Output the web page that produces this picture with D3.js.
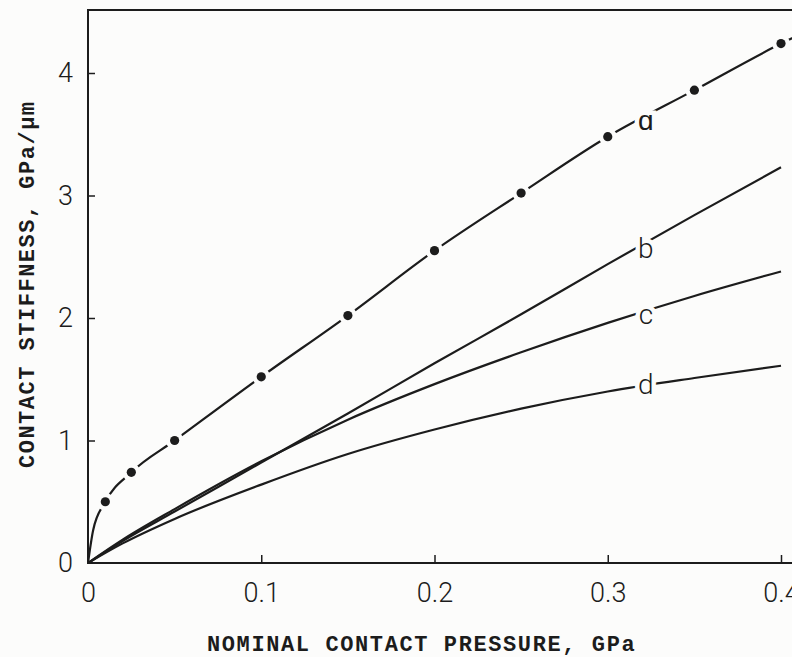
<!DOCTYPE html>
<html>
<head>
<meta charset="utf-8">
<script src="https://cdn.jsdelivr.net/npm/d3@7"></script>
<style>
  html, body { margin: 0; padding: 0; background: #fcfcfb; }
  svg { display: block; }
</style>
</head>
<body>
<svg id="chart"></svg>
<script>
// readings
const pressure = [0, 0.02, 0.05, 0.1, 0.15, 0.2, 0.25, 0.3, 0.35, 0.4]
const stiffB = [0, 0.18, 0.42, 0.82, 1.22, 1.63, 2.03, 2.44, 2.84, 3.23]
const stiffC = [0, 0.19, 0.44, 0.83, 1.17, 1.46, 1.72, 1.96, 2.18, 2.38]
const stiffD = [0, 0.16, 0.36, 0.64, 0.89, 1.09, 1.26, 1.4, 1.51, 1.61]

// curve a: measured points (dots) and the drawn curve through them
const measuredPressureA = [0.01, 0.025, 0.05, 0.1, 0.15, 0.2, 0.25, 0.3, 0.35, 0.4]
const measuredStiffA = [0.5, 0.74, 1.0, 1.52, 2.02, 2.55, 3.02, 3.48, 3.86, 4.24]
const curvePressureA = [0, 0.003, 0.01, 0.025, 0.05, 0.1, 0.15, 0.2, 0.25, 0.3, 0.35, 0.4, 0.41]
const curveStiffA = [0, 0.27, 0.5, 0.74, 1.0, 1.52, 2.02, 2.55, 3.02, 3.48, 3.86, 4.24, 4.31]

const curveNames = ["a", "b", "c", "d"]
const xTicks = [0, 0.1, 0.2, 0.3, 0.4]
const yTicks = [0, 1, 2, 3, 4]

const width = 792, height = 657
const ink = "#1c1c1c"
const paper = "#fcfcfb"
const labelAt = 0.322

const svg = d3.select("#chart").attr("width", width).attr("height", height)

const x = d3.scaleLinear().domain([0, 0.4]).range([88, 781])
const y = d3.scaleLinear().domain([0, 4]).range([563, 73])
const frameTop = 10, frameRight = 800

const series = [
    {name: curveNames[0], pts: curvePressureA.map((p, i) => [p, curveStiffA[i]]), dy: 4},
    {name: curveNames[1], pts: pressure.map((p, i) => [p, stiffB[i]]), dy: 6},
    {name: curveNames[2], pts: pressure.map((p, i) => [p, stiffC[i]]), dy: 3},
    {name: curveNames[3], pts: pressure.map((p, i) => [p, stiffD[i]]), dy: -1}
]

// frame (right side runs off the page like the scan)
svg.append("path")
    .attr("d", `M${frameRight},${frameTop} H${x(0)} V${y(0)} H${frameRight}`)
    .attr("fill", "none").attr("stroke", ink).attr("stroke-width", 2)

// axes with inward ticks
let xAxis = d3.axisBottom(x).tickValues(xTicks).tickSize(-8).tickPadding(20)
    .tickFormat(d => d === 0 ? "0" : d.toFixed(1))
let yAxis = d3.axisLeft(y).tickValues(yTicks).tickSize(-7).tickPadding(15)
    .tickFormat(d3.format("d"))

let gx = svg.append("g").attr("transform", `translate(0,${y(0)})`).call(xAxis)
let gy = svg.append("g").attr("transform", `translate(${x(0)},0)`).call(yAxis)
;[gx, gy].forEach(g => {
    g.select(".domain").remove()
    g.selectAll("line").attr("stroke", ink).attr("stroke-width", 1.5)
    g.selectAll("text")
        .attr("fill", ink)
        .style("font-family", "Roboto, 'Liberation Sans', sans-serif")
        .style("font-weight", 300)
        .style("font-size", "27px")
})
gx.selectAll(".tick").filter(d => d === 0).select("line").remove()
gy.selectAll(".tick").filter(d => d === 0).select("line").remove()

// curves
let lineGen = d3.line().x(d => x(d[0])).y(d => y(d[1])).curve(d3.curveMonotoneX)
svg.append("defs").append("clipPath").attr("id", "plot-clip")
    .append("rect").attr("x", x(0)).attr("y", frameTop)
    .attr("width", frameRight - x(0)).attr("height", y(0) - frameTop)

let curves = svg.append("g").attr("clip-path", "url(#plot-clip)")
curves.selectAll("path")
    .data(series)
    .join("path")
    .attr("d", d => lineGen(d.pts))
    .attr("fill", "none")
    .attr("stroke", ink)
    .attr("stroke-width", 2.2)

// gaps round the dots of curve a, then the dots
let dotsA = measuredPressureA.map((p, i) => [p, measuredStiffA[i]])
curves.selectAll("circle.gap")
    .data(dotsA)
    .join("circle")
    .attr("class", "gap")
    .attr("cx", d => x(d[0])).attr("cy", d => y(d[1]))
    .attr("r", 9)
    .attr("fill", paper)
curves.selectAll("circle.dot")
    .data(dotsA)
    .join("circle")
    .attr("class", "dot")
    .attr("cx", d => x(d[0])).attr("cy", d => y(d[1]))
    .attr("r", 4.6)
    .attr("fill", ink)

// curve labels sit on the curves, breaking them
function valueAt(pts, p) {
    let i = d3.bisector(d => d[0]).left(pts, p)
    let a = pts[i - 1], b = pts[i]
    return a[1] + (b[1] - a[1]) * (p - a[0]) / (b[0] - a[0])
}
let labels = svg.append("g")
labels.selectAll("text")
    .data(series)
    .join("text")
    .attr("x", x(labelAt))
    .attr("y", d => y(valueAt(d.pts, labelAt)) + d.dy)
    .attr("text-anchor", "middle")
    .attr("dominant-baseline", "central")
    .attr("fill", ink)
    .attr("stroke", paper)
    .attr("stroke-width", 9)
    .attr("paint-order", "stroke")
    .style("font-family", "Roboto, 'Liberation Sans', sans-serif")
    .style("font-weight", 300)
    .style("font-size", "28px")
    .text(d => d.name === "a" ? "ɑ" : d.name)

// axis titles
svg.append("text")
    .attr("x", 207).attr("y", 651)
    .attr("fill", ink)
    .style("font-family", "'Liberation Mono', 'DejaVu Sans Mono', monospace")
    .style("font-weight", "bold")
    .style("font-size", "22px")
    .style("letter-spacing", "1.6px")
    .text("NOMINAL CONTACT PRESSURE, GPa")

svg.append("text")
    .attr("transform", "translate(34,468) rotate(-90)")
    .attr("fill", ink)
    .style("font-family", "'Liberation Mono', 'DejaVu Sans Mono', monospace")
    .style("font-weight", "bold")
    .style("font-size", "22px")
    .style("letter-spacing", "1.5px")
    .text("CONTACT STIFFNESS, GPa/µm")
</script>
</body>
</html>
